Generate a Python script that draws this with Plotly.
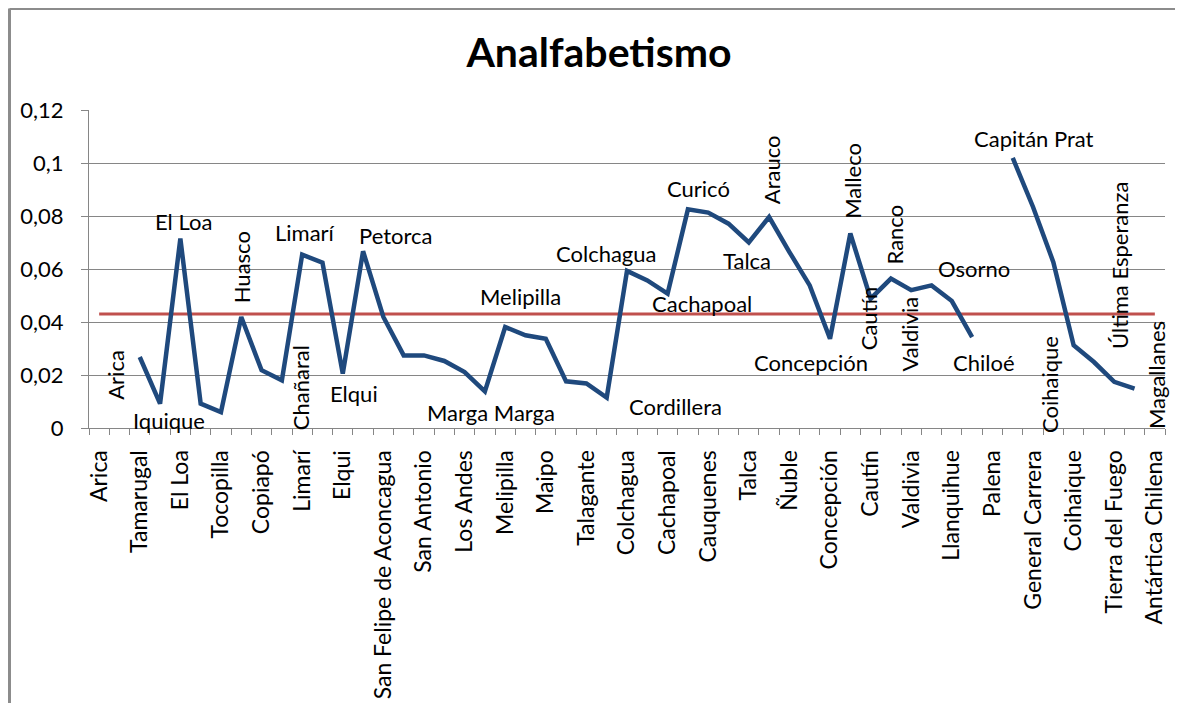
import plotly.graph_objects as go

# ---------------- data ----------------
categories = [
    "Arica", "Parinacota", "Tamarugal", "Iquique", "El Loa", "Antofagasta",
    "Tocopilla", "Huasco", "Copiapó", "Chañaral", "Limarí", "Choapa", "Elqui",
    "Petorca", "San Felipe de Aconcagua", "Quillota", "San Antonio", "Valparaíso",
    "Los Andes", "Marga Marga", "Melipilla", "Santiago", "Maipo", "Chacabuco",
    "Talagante", "Cordillera", "Colchagua", "Cardenal Caro", "Cachapoal", "Curicó",
    "Cauquenes", "Linares", "Talca", "Arauco", "Ñuble", "Bío Bío", "Concepción",
    "Malleco", "Cautín", "Ranco", "Valdivia", "Osorno", "Llanquihue", "Chiloé",
    "Palena", "Capitán Prat", "General Carrera", "Aysén", "Coihaique",
    "Última Esperanza", "Tierra del Fuego", "Magallanes", "Antártica Chilena",
]

analfabetismo = [
    None, None, 0.0268, 0.0092, 0.0715, 0.0092, 0.0060, 0.0419, 0.0218, 0.0180,
    0.0654, 0.0624, 0.0205, 0.0667, 0.0419, 0.0274, 0.0274, 0.0253, 0.0211, 0.0138,
    0.0381, 0.0350, 0.0337, 0.0176, 0.0168, 0.0115, 0.0593, 0.0557, 0.0507, 0.0825,
    0.0813, 0.0771, 0.0700, 0.0796, 0.0664, 0.0538, 0.0337, 0.0734, 0.0488, 0.0564,
    0.0520, 0.0538, 0.0479, 0.0343, None, 0.1019, 0.0834, 0.0626, 0.0312, 0.0249,
    0.0174, 0.0149, None,
]

promedio = 0.043

y_tick_values = [0, 0.02, 0.04, 0.06, 0.08, 0.1, 0.12]
y_tick_labels = ["0", "0,02", "0,04", "0,06", "0,08", "0,1", "0,12"]

# data labels: text shown and the category point it belongs to
label_texts = [
    "Arica", "Iquique", "El Loa", "Huasco", "Chañaral", "Limarí", "Elqui",
    "Petorca", "Marga Marga", "Melipilla", "Cordillera", "Colchagua", "Cachapoal",
    "Curicó", "Talca", "Arauco", "Concepción", "Malleco", "Cautín", "Ranco",
    "Valdivia", "Osorno", "Chiloé", "Capitán Prat", "Coihaique",
    "Última Esperanza", "Magallanes",
]
label_points = [
    "Tamarugal", "Iquique", "El Loa", "Huasco", "Chañaral", "Limarí", "Elqui",
    "Petorca", "Marga Marga", "Melipilla", "Cordillera", "Colchagua", "Cachapoal",
    "Curicó", "Talca", "Arauco", "Concepción", "Malleco", "Cautín", "Ranco",
    "Valdivia", "Osorno", "Chiloé", "Capitán Prat", "Coihaique",
    "Última Esperanza", "Magallanes",
]

# ---------------- label placement (style) ----------------
# (x shift px, y shift px downward, angle)
label_style = [
    (-24, 18, -90), (9, 17, 0), (3, -17, 0), (1, -50, -90), (18, 7, -90),
    (3, -22, 0), (11, 20, 0), (32, -16, 0), (6, 21, 0), (15, -31, 0),
    (69, 9, 0), (-21, -17, 0), (34, 10, 0), (11, -21, 0), (-2, 18, 0),
    (2, -47, -90), (-19, 24, 0), (2, -53, -90), (-2, 20, -90), (4, -44, -90),
    (-2, 44, -90), (42, -17, 0), (12, 25, 0), (21, -19, 0), (-24, 39, -90),
    (25, -97, -90), (22, -13, -90),
]

FONT = "Lato, 'Open Sans', sans-serif"
GRID = "#868686"

# page body has an 8px margin: the figure is sized to fill the rest
W, H = 1175, 695
L, R, T, B = 81, 18, 102, 275
PW, PH = W - L - R, H - T - B

fig = go.Figure()

fig.add_trace(go.Scatter(
    x=categories, y=[promedio] * len(categories), mode="lines",
    line=dict(color="#C0504D", width=3), hoverinfo="skip", showlegend=False,
))
fig.add_trace(go.Scatter(
    x=categories, y=analfabetismo, mode="lines", connectgaps=False,
    line=dict(color="#1F497D", width=4.5), showlegend=False,
))

value_of = dict(zip(categories, analfabetismo))
for text, cat, (dx, dy, ang) in zip(label_texts, label_points, label_style):
    fig.add_annotation(
        x=cat, y=value_of[cat], text=text, showarrow=False,
        xshift=dx, yshift=-dy, textangle=ang,
        font=dict(family=FONT, size=22, color="#000000"),
    )

tick_text = [c if i % 2 == 0 else "" for i, c in enumerate(categories)]

fig.update_layout(
    width=W, height=H,
    margin=dict(l=L, r=R, t=T, b=B),
    paper_bgcolor="white", plot_bgcolor="white",
    title=dict(
        text="<b>Analfabetismo</b>", x=591 / W, xanchor="center",
        y=1 - 45 / H, yanchor="middle", yref="container",
        font=dict(family=FONT, size=41, color="#000000"),
    ),
    xaxis=dict(
        type="category", categoryorder="array", categoryarray=categories,
        tickmode="array", tickvals=categories, ticktext=tick_text,
        tickangle=-90, tickson="boundaries", ticks="outside", ticklen=6,
        tickcolor=GRID, showline=True, linecolor=GRID, linewidth=1,
        showgrid=False, ticklabelstandoff=12, automargin=False,
        tickfont=dict(family=FONT, size=23, color="#000000"),
        range=[-0.5, len(categories) - 0.5], fixedrange=True,
    ),
    yaxis=dict(
        range=[0, 0.12], tickmode="array", tickvals=y_tick_values,
        ticktext=y_tick_labels, ticks="outside", ticklen=7, tickcolor=GRID,
        showline=True, linecolor=GRID, linewidth=1,
        showgrid=True, gridcolor=GRID, gridwidth=1, zeroline=False,
        ticklabelstandoff=13, automargin=False,
        tickfont=dict(family=FONT, size=22, color="#000000"),
    ),
)

# outer chart frame (left and top edges visible in the picture)
fx = (1.5 - L) / PW
fy = (T - 0.5 + PH) / PH
fig.add_shape(type="line", xref="paper", yref="paper",
              x0=fx, x1=fx, y0=fy, y1=(-B - 20) / PH,
              line=dict(color="#8C8C8C", width=3))
fig.add_shape(type="line", xref="paper", yref="paper",
              x0=fx, x1=(W + 20 - L) / PW, y0=fy, y1=fy,
              line=dict(color="#8C8C8C", width=3))

fig.write_html("out.html", config={"displayModeBar": False})
